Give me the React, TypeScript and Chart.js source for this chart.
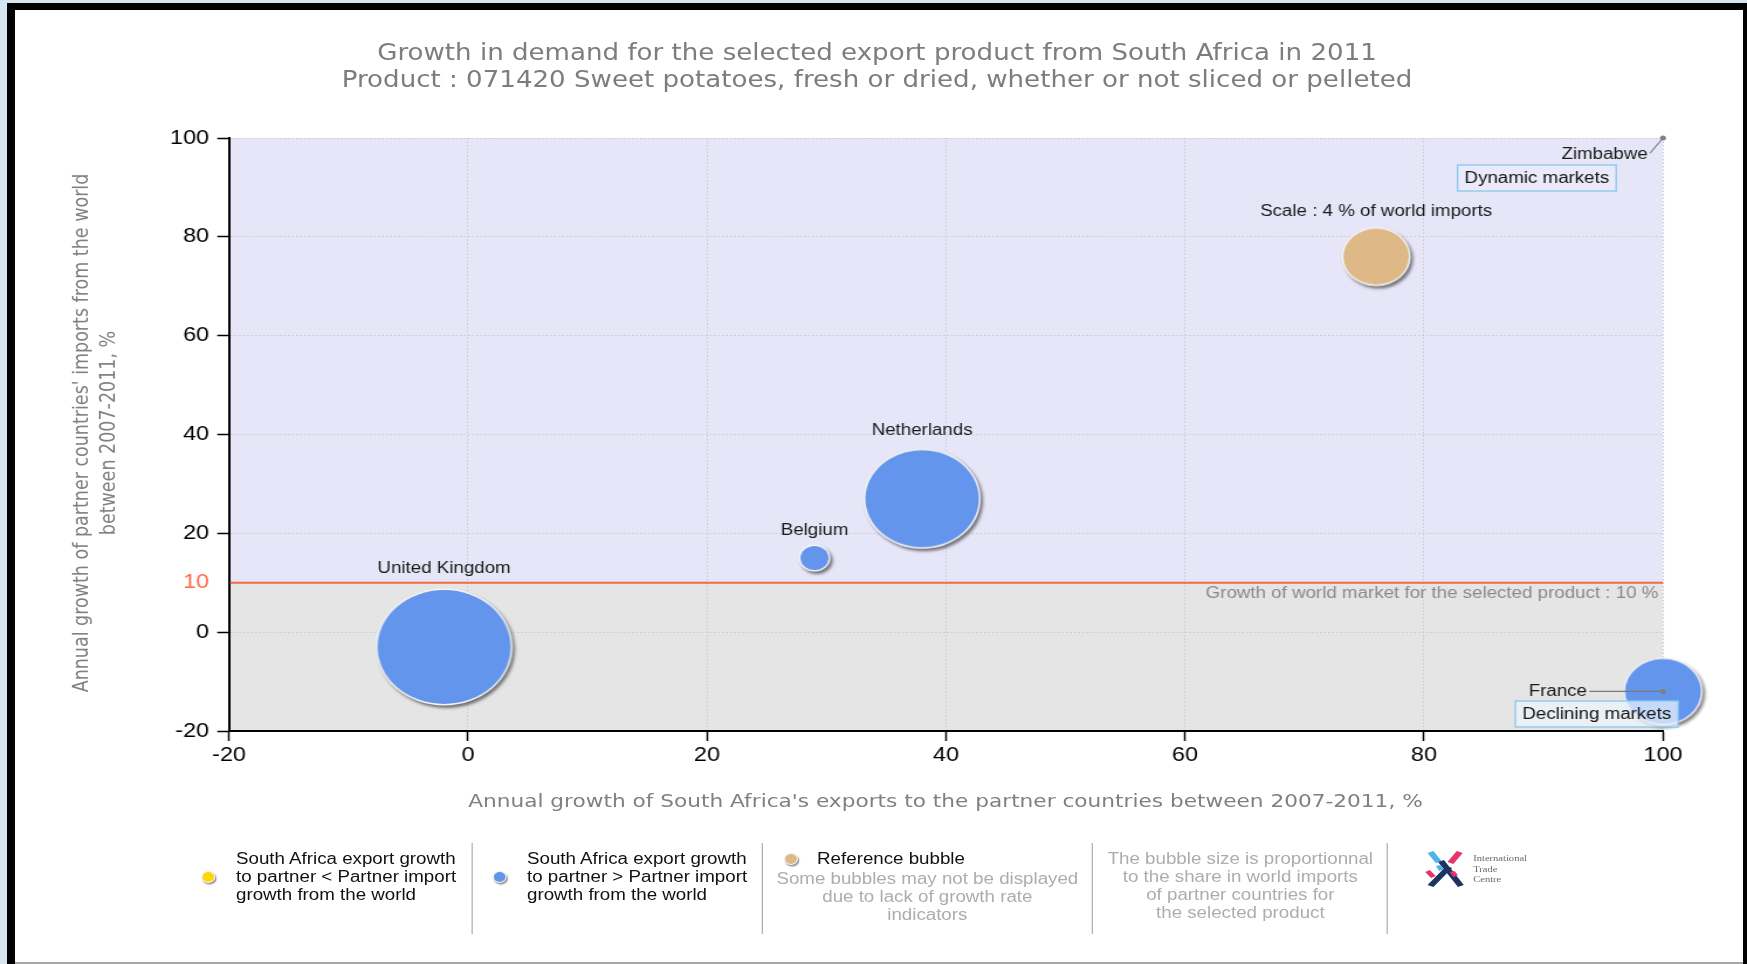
import React, { useEffect, useRef } from "react";
import { Chart, registerables } from "chart.js";

Chart.register(...registerables);

// The figure is laid out in a narrower box and widened horizontally as a whole.
const PAGE_W = 1747;
const PAGE_H = 964;
const BOX_W = 1493;
const STRETCH = PAGE_W / BOX_W;

// Partner countries: x = South Africa's export growth, y = partner import growth
const COUNTRIES = ["United Kingdom", "Belgium", "Netherlands", "France", "Zimbabwe"];
const EXPORT_GROWTH = [-2, 29, 38, 100, 100];
const IMPORT_GROWTH = [-3, 15, 27, -12, 100];
const WORLD_IMPORT_SHARE = [15.7, 0.84, 11.5, 5.3, 0];

const WORLD_MARKET_GROWTH = 10;
const REFERENCE_SHARE = 4;
const REFERENCE_X = 76;
const REFERENCE_Y = 76;

const X_TICKS = [-20, 0, 20, 40, 60, 80, 100];
const Y_TICKS = [-20, 0, 10, 20, 40, 60, 80, 100];

const TITLE_LINES = [
  "Growth in demand for the selected export product from South Africa in 2011",
  "Product : 071420 Sweet potatoes, fresh or dried, whether or not sliced or pelleted",
];
const X_TITLE = "Annual growth of South Africa's exports to the partner countries between 2007-2011, %";
const Y_TITLE_LINES = [
  "Annual growth of partner countries' imports from the world",
  "between 2007-2011, %",
];
const REFERENCE_LABEL = "Scale : 4 % of world imports";
const WORLD_LINE_LABEL = "Growth of world market for the selected product : 10 %";
const DYNAMIC_LABEL = "Dynamic markets";
const DECLINING_LABEL = "Declining markets";

const LEGEND_SLOWER = ["South Africa export growth", "to partner < Partner import", "growth from the world"];
const LEGEND_FASTER = ["South Africa export growth", "to partner > Partner import", "growth from the world"];
const LEGEND_REFERENCE = "Reference bubble";
const LEGEND_MISSING = ["Some bubbles may not be displayed", "due to lack of growth rate", "indicators"];
const LEGEND_SIZE_NOTE = ["The bubble size is proportionnal", "to the share in world imports", "of partner countries for", "the selected product"];

const BLUE = "#6495ED";
const YELLOW = "#FFD700";
const TAN = "#DEB887";
const LINE_ORANGE = "#F06A40";
const SANS = "'Liberation Sans', Arial, sans-serif";
const TITLE_FONT = "'DejaVu Sans', Verdana, sans-serif";

// Bubble area is proportional to the share; the reference bubble has this radius.
const REFERENCE_RADIUS = 29.5;
const radiusFor = (share: number) => REFERENCE_RADIUS * Math.sqrt(share / REFERENCE_SHARE);
// Distance from a bubble's centre to the middle of its caption
const captionOffset = (r: number) => 1.13 * r + 12;

function makeBubble(r: number, fill: string): HTMLCanvasElement | null {
  if (r < 0.5) return null;
  const pad = 7;
  const size = 2 * Math.ceil(r + pad);
  const c = document.createElement("canvas");
  c.width = size;
  c.height = size;
  const g = c.getContext("2d")!;
  const m = size / 2;
  g.shadowColor = "rgba(0,0,0,0.5)";
  g.shadowBlur = 3;
  g.shadowOffsetX = 2;
  g.shadowOffsetY = 2.5;
  g.beginPath();
  g.arc(m, m, r, 0, Math.PI * 2);
  g.fillStyle = "#F4F4F4";
  g.fill();
  g.shadowColor = "transparent";
  g.beginPath();
  g.arc(m, m, Math.max(r - 1.5, 0.5), 0, Math.PI * 2);
  g.fillStyle = fill;
  g.fill();
  return c;
}

const bandsPlugin = {
  id: "marketBands",
  beforeDraw(chart: any) {
    const { ctx, chartArea: a, scales } = chart;
    const yLine = scales.y.getPixelForValue(WORLD_MARKET_GROWTH);
    ctx.save();
    ctx.fillStyle = "#E6E6F8";
    ctx.fillRect(a.left, a.top, a.right - a.left, yLine - a.top);
    ctx.fillStyle = "#E5E5E5";
    ctx.fillRect(a.left, yLine, a.right - a.left, a.bottom - yLine);
    ctx.restore();
  },
  beforeDatasetsDraw(chart: any) {
    const { ctx, chartArea: a, scales } = chart;
    const yLine = scales.y.getPixelForValue(WORLD_MARKET_GROWTH);
    ctx.save();
    ctx.strokeStyle = LINE_ORANGE;
    ctx.lineWidth = 2;
    ctx.beginPath();
    ctx.moveTo(a.left + 1, yLine);
    ctx.lineTo(a.right, yLine);
    ctx.stroke();
    ctx.restore();
  },
};

function drawBox(ctx: CanvasRenderingContext2D, text: string, right: number, top: number, fill: string) {
  const w = ctx.measureText(text).width + 12;
  const h = 26;
  ctx.fillStyle = fill;
  ctx.fillRect(right - w, top, w, h);
  ctx.strokeStyle = "#88C8EF";
  ctx.lineWidth = 1.3;
  ctx.strokeRect(right - w, top, w, h);
  ctx.fillStyle = "#141414";
  ctx.textAlign = "center";
  ctx.textBaseline = "middle";
  ctx.fillText(text, right - w / 2, top + h / 2 + 1);
}

const labelsPlugin = {
  id: "bubbleLabels",
  afterDatasetsDraw(chart: any) {
    const { ctx, chartArea: a, scales } = chart;
    const xMax = scales.x.max;
    const yMax = scales.y.max;
    ctx.save();
    ctx.font = `16px ${SANS}`;

    // country names
    const meta = chart.getDatasetMeta(0);
    meta.data.forEach((el: any, i: number) => {
      const r = radiusFor(WORLD_IMPORT_SHARE[i]);
      const { x, y } = el;
      ctx.fillStyle = "#1A1A1A";
      ctx.textBaseline = "middle";
      if (EXPORT_GROWTH[i] >= xMax) {
        let lx0: number, ly0: number;
        if (IMPORT_GROWTH[i] >= yMax) {
          lx0 = x - 11;
          ly0 = y + 15;
          ctx.textAlign = "right";
          ctx.fillText(COUNTRIES[i], x - 13, y + 17);
        } else {
          lx0 = x - r - 29;
          ly0 = y;
          ctx.textAlign = "right";
          ctx.fillText(COUNTRIES[i], x - r - 31, y);
        }
        ctx.strokeStyle = "#7A7A7A";
        ctx.lineWidth = 1.2;
        ctx.beginPath();
        ctx.moveTo(lx0, ly0);
        ctx.lineTo(x, y);
        ctx.stroke();
        ctx.fillStyle = "#808080";
        ctx.beginPath();
        ctx.arc(x, y, 2.5, 0, Math.PI * 2);
        ctx.fill();
      } else {
        ctx.textAlign = "center";
        ctx.fillText(COUNTRIES[i], x, y - captionOffset(r));
      }
    });

    // reference bubble caption
    const ref = chart.getDatasetMeta(1).data[0];
    ctx.fillStyle = "#1A1A1A";
    ctx.textAlign = "center";
    ctx.textBaseline = "middle";
    ctx.fillText(REFERENCE_LABEL, ref.x, ref.y - captionOffset(REFERENCE_RADIUS));

    // world market growth caption
    const yLine = scales.y.getPixelForValue(WORLD_MARKET_GROWTH);
    ctx.fillStyle = "#8A8A8A";
    ctx.textAlign = "right";
    ctx.fillText(WORLD_LINE_LABEL, a.right - 4, yLine + 11);

    // quadrant captions
    drawBox(ctx, DYNAMIC_LABEL, a.right - 40, a.top + 27, "rgba(236,236,252,0.6)");
    drawBox(ctx, DECLINING_LABEL, a.right + 13, a.bottom - 30, "rgba(236,244,252,0.72)");
    ctx.restore();
  },
};

function LegendDot({ x, y, color }: { x: number; y: number; color: string }) {
  return (
    <div
      style={{
        position: "absolute",
        left: x - 6,
        top: y - 6,
        width: 12,
        height: 12,
        borderRadius: "50%",
        background: color,
        border: "1px solid #F4F4F4",
        boxSizing: "border-box",
        boxShadow: "1px 1.5px 1.5px rgba(0,0,0,0.45)",
      }}
    />
  );
}

function TextLines({ lines, left, top, width, align, color }: { lines: string[]; left: number; top: number; width?: number; align?: "left" | "center"; color: string }) {
  return (
    <div
      style={{
        position: "absolute",
        left,
        top,
        width,
        textAlign: align || "left",
        color,
        font: `16px ${SANS}`,
        lineHeight: "18px",
        whiteSpace: "nowrap",
      }}
    >
      {lines.map((l, i) => (
        <div key={i}>{l}</div>
      ))}
    </div>
  );
}

function Separator({ x }: { x: number }) {
  return <div style={{ position: "absolute", left: x, top: 843, width: 1, height: 91, background: "#ABABAB" }} />;
}

function ItcLogo({ left, top }: { left: number; top: number }) {
  return (
    <div style={{ position: "absolute", left, top, width: 100, height: 40 }}>
      <svg width={36} height={38} viewBox="0 0 36 38" style={{ position: "absolute", left: 0, top: 0 }}>
        <path d="M3 3 L8 1 L15 11 L10 13 Z" fill="#4FB3E8" />
        <path d="M12 12 L17 10 L34 35 L29 37 Z" fill="#1D3461" />
        <path d="M28 1 L33 3 L25 14 L20 12 Z" fill="#E8336D" />
        <path d="M19 16 L24 18 L8 37 L3 35 Z" fill="#1D3461" />
        <path d="M10 16 L14 15 L17 19 L13 21 Z" fill="#4FB3E8" />
        <path d="M22 22 L26 21 L29 25 L25 27 Z" fill="#E8336D" />
        <path d="M1 22 L5 20 L10 26 L6 28 Z" fill="#E8336D" />
      </svg>
      <div
        style={{
          position: "absolute",
          left: 42,
          top: 3,
          font: "9px 'Liberation Serif', 'DejaVu Serif', serif",
          lineHeight: "10.5px",
          color: "#6A6A6A",
          whiteSpace: "nowrap",
        }}
      >
        <div>International</div>
        <div>Trade</div>
        <div>Centre</div>
      </div>
    </div>
  );
}

export default function App() {
  const canvasRef = useRef<HTMLCanvasElement | null>(null);

  useEffect(() => {
    const canvas = canvasRef.current;
    if (!canvas) return;

    const countryPoints = COUNTRIES.map((_, i) => ({
      x: EXPORT_GROWTH[i],
      y: IMPORT_GROWTH[i],
      r: radiusFor(WORLD_IMPORT_SHARE[i]),
    }));
    const countryImages = countryPoints.map((p, i) =>
      makeBubble(p.r, EXPORT_GROWTH[i] >= IMPORT_GROWTH[i] ? BLUE : YELLOW)
    );
    const refR = radiusFor(REFERENCE_SHARE);
    const refImage = makeBubble(refR, TAN);

    const grid = {
      color: (c: any) => (c.tick && c.tick.value === WORLD_MARKET_GROWTH ? "transparent" : "#CBCBCB"),
      tickColor: (c: any) => (c.tick && c.tick.value === WORLD_MARKET_GROWTH ? "transparent" : "#000"),
      lineWidth: 1,
      tickWidth: 1.5,
      tickLength: 10,
    };
    const border = { color: "#000", width: 2, dash: [1.5, 2] };

    const chart = new Chart(canvas, {
      type: "bubble",
      data: {
        datasets: [
          {
            label: "Partner countries",
            data: countryPoints,
            pointStyle: (c: any) => countryImages[c.dataIndex] || "circle",
            backgroundColor: BLUE,
            borderWidth: 0,
            clip: false,
          } as any,
          {
            label: "Reference bubble",
            data: [{ x: REFERENCE_X, y: REFERENCE_Y, r: refR }],
            pointStyle: () => refImage || "circle",
            backgroundColor: TAN,
            borderWidth: 0,
            clip: false,
          } as any,
        ],
      },
      options: {
        responsive: false,
        animation: false,
        devicePixelRatio: 1,
        events: [],
        layout: { padding: { left: 195.7 - 62, right: BOX_W - 1421.2, top: 138, bottom: PAGE_H - 731 - 50 } },
        plugins: { legend: { display: false }, tooltip: { enabled: false }, title: { display: false } },
        scales: {
          x: {
            type: "linear",
            min: -20,
            max: 100,
            afterBuildTicks: (s: any) => {
              s.ticks = X_TICKS.map((v) => ({ value: v }));
            },
            afterFit: (s: any) => {
              s.height = 50;
            },
            grid,
            border,
            ticks: { color: "#000", padding: 2, font: { family: SANS, size: 20 } },
          },
          y: {
            type: "linear",
            min: -20,
            max: 100,
            afterBuildTicks: (s: any) => {
              s.ticks = Y_TICKS.map((v) => ({ value: v }));
            },
            afterFit: (s: any) => {
              s.width = 62;
            },
            grid,
            border,
            ticks: {
              color: (c: any) => (c.tick && c.tick.value === WORLD_MARKET_GROWTH ? "#FF6B4B" : "#000"),
              padding: 7,
              font: { family: SANS, size: 20 },
            },
          },
        },
      } as any,
      plugins: [bandsPlugin, labelsPlugin],
    });

    return () => chart.destroy();
  }, []);

  return (
    <div style={{ position: "fixed", left: 0, top: 0, width: PAGE_W, height: PAGE_H, background: "#D6E3F0", overflow: "hidden" }}>
      <div style={{ position: "absolute", left: 7, top: 3, right: 0, bottom: 0, background: "#000" }} />
      <div style={{ position: "absolute", left: 15, top: 10, width: 1728, height: 952, background: "#fff" }} />
      <div style={{ position: "absolute", left: 15, top: 962, width: 1728, height: 2, background: "#A6A6A6" }} />

      <div
        style={{
          position: "absolute",
          left: 0,
          top: 0,
          width: BOX_W,
          height: PAGE_H,
          transform: `scaleX(${STRETCH})`,
          transformOrigin: "0 0",
        }}
      >
        <canvas
          ref={canvasRef}
          width={BOX_W}
          height={PAGE_H}
          style={{ position: "absolute", left: 0, top: 0, width: BOX_W, height: PAGE_H }}
        />

        <div
          style={{
            position: "absolute",
            left: 0,
            top: 38.5,
            width: 1499,
            textAlign: "center",
            font: `22.3px ${TITLE_FONT}`,
            lineHeight: "27px",
            color: "#7D7D7D",
            whiteSpace: "nowrap",
          }}
        >
          {TITLE_LINES.map((l, i) => (
            <div key={i}>{l}</div>
          ))}
        </div>

        <div
          style={{
            position: "absolute",
            left: 80.5 - 300,
            top: 433 - 23,
            width: 600,
            height: 46,
            transform: "rotate(-90deg)",
            transformOrigin: "50% 50%",
            textAlign: "center",
            font: `17.5px ${TITLE_FONT}`,
            lineHeight: "23px",
            color: "#808080",
            whiteSpace: "nowrap",
          }}
        >
          {Y_TITLE_LINES.map((l, i) => (
            <div key={i}>{l}</div>
          ))}
        </div>

        <div
          style={{
            position: "absolute",
            left: 808 - 600,
            top: 801 - 11,
            width: 1200,
            textAlign: "center",
            font: `18.5px ${TITLE_FONT}`,
            lineHeight: "22px",
            color: "#808080",
            whiteSpace: "nowrap",
          }}
        >
          {X_TITLE}
        </div>

        <LegendDot x={177.8} y={877} color={YELLOW} />
        <TextLines lines={LEGEND_SLOWER} left={201.7} top={850} color="#111" />
        <Separator x={403.4} />
        <LegendDot x={427.4} y={877} color={BLUE} />
        <TextLines lines={LEGEND_FASTER} left={450.4} top={850} color="#111" />
        <Separator x={651.3} />
        <LegendDot x={676} y={859} color={TAN} />
        <TextLines lines={[LEGEND_REFERENCE]} left={698.3} top={850} color="#111" />
        <TextLines lines={LEGEND_MISSING} left={792.5 - 140} top={870} width={280} align="center" color="#ADADAD" />
        <Separator x={933.3} />
        <TextLines lines={LEGEND_SIZE_NOTE} left={1060 - 130} top={850} width={260} align="center" color="#ADADAD" />
        <Separator x={1184.6} />
        <ItcLogo left={1217} top={850} />
      </div>
    </div>
  );
}
